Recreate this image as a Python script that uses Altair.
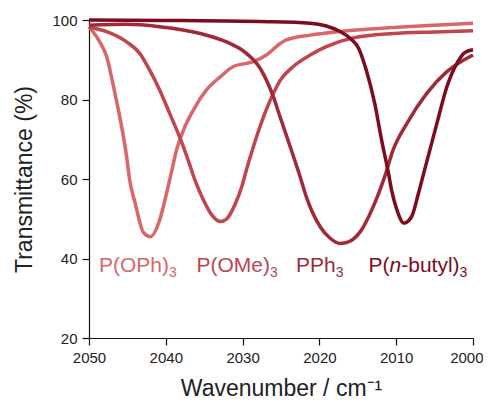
import altair as alt
import pandas as pd

# ---- data ----
oph_x = [2050, 2049.5, 2048.6, 2047.7, 2046.8, 2046.0, 2045.1, 2044.7, 2044.0, 2042.9, 2042.0,
         2040.8, 2039.9, 2039.2, 2038.6, 2037.7, 2036.4, 2034.7, 2032.9, 2031.2, 2028.6, 2026.9,
         2025.1, 2024.3, 2021.2, 2016.9, 2010.4, 2005, 2000]
oph_y = [98.3, 97.1, 94.5, 90.8, 83.2, 75.7, 65.6, 59.7, 54.0, 46.5, 45.5,
         49.7, 56.4, 62.3, 67.3, 72.3, 77.4, 82.4, 85.7, 88.3, 89.5, 91.2,
         94.1, 95.0, 96.2, 97.2, 98.1, 98.7, 99.2]

ome_x = [2050, 2047.7, 2045.1, 2043.4, 2042.1, 2040.8, 2039.5, 2038.2, 2037.1, 2036.2, 2035.1,
         2034.0, 2032.9, 2032.1, 2031.0, 2030.1, 2029.5, 2028.6, 2026.9, 2026.0, 2025.1, 2023.4,
         2021.2, 2019.1, 2015.6, 2010.4, 2005, 2000]
ome_y = [98.2, 97.1, 94.5, 91.6, 87.4, 82.4, 76.5, 70.6, 64.8, 59.7, 54.7,
         50.9, 49.3, 49.9, 53.5, 58.1, 62.3, 68.1, 77.5, 81.5, 84.8, 88.3,
         91.2, 93.3, 95.5, 96.6, 97.0, 97.3]

pph_x = [2050, 2045.1, 2040.8, 2035.5, 2032.1, 2029.5, 2027.7, 2026.0, 2025.1, 2023.8, 2022.5,
         2021.7, 2019.9, 2018.6, 2017.3, 2016.2, 2014.7, 2013.0, 2011.5, 2010.4, 2008.6, 2006.0,
         2003.4, 2000]
pph_y = [98.7, 98.9, 98.3, 96.6, 94.5, 91.6, 87.8, 80.7, 75.5, 68.1, 60.5,
         55.5, 48.0, 45.1, 43.8, 44.2, 46.7, 53.0, 60.6, 67.3, 74.0, 81.6,
         87.0, 91.2]

nbu_x = [2050, 2040, 2030, 2027.7, 2021.2, 2019.1, 2017.3, 2016.0, 2014.9, 2013.9, 2012.8,
         2011.9, 2011.0, 2010.6, 2009.9, 2009.0, 2008.0, 2007.1, 2006.3, 2004.7, 2003.4, 2002.1,
         2001.0, 2000]
nbu_y = [100.0, 99.9, 99.7, 99.6, 99.2, 98.5, 97.1, 95.4, 92.9, 87.4, 79.0,
         69.8, 61.4, 57.2, 52.2, 48.9, 50.5, 56.4, 62.3, 74.0, 83.2, 89.1,
         91.9, 92.5]

series_names = ["P(OPh)3", "P(OMe)3", "PPh3", "P(n-butyl)3"]
series_colors = ["#d9676a", "#c0454f", "#a02a37", "#7d0c1e"]

x_ticks = [2050, 2040, 2030, 2020, 2010, 2000]
y_ticks = [20, 40, 60, 80, 100]

# label segments: (text, style) ; style: n normal, i italic, s subscript
label_segments = [
    [("P(OPh)", "n"), ("3", "s")],
    [("P(OMe)", "n"), ("3", "s")],
    [("PPh", "n"), ("3", "s")],
    [("P(", "n"), ("n", "i"), ("-butyl)", "n"), ("3", "s")],
]
label_x = [2048.7, 2036.0, 2023.05, 2013.6]
label_y = 36.7

# ---- build table ----
rows = []
for name, xs, ys in zip(series_names, [oph_x, ome_x, pph_x, nbu_x], [oph_y, ome_y, pph_y, nbu_y]):
    for xv, yv in zip(xs, ys):
        rows.append({"series": name, "wn": xv, "T": yv})
df = pd.DataFrame(rows)

FONT = "Liberation Sans"
LABEL_SIZE = 21
SUB_SIZE = 14

x_scale = alt.Scale(domain=[2000, 2050], reverse=True, nice=False)
y_scale = alt.Scale(domain=[20, 100], nice=False)

lines = alt.Chart(df).mark_line(strokeWidth=3.5, strokeJoin="round", interpolate="monotone",
                                clip=False).encode(
    x=alt.X("wn:Q", scale=x_scale,
            axis=alt.Axis(values=x_ticks, title="Wavenumber / cm⁻¹", format="d",
                          titlePadding=12, labelPadding=5, labelFlush=False,
                          labelAlign={"expr": "datum.value == 2000 ? 'right' : 'center'"},
                          labelOffset={"expr": "datum.value == 2000 ? 10 : 0"})),
    y=alt.Y("T:Q", scale=y_scale,
            axis=alt.Axis(values=y_ticks, title="Transmittance (%)", titlePadding=15,
                          labelPadding=5, labelFlush=False)),
    color=alt.Color("series:N", scale=alt.Scale(domain=series_names, range=series_colors),
                    legend=None),
    detail="series:N",
    order="wn:Q",
)

# Arial / Liberation Sans advance widths (per 1000 em)
W = {"P": 667, "(": 333, ")": 333, "O": 778, "h": 556, "M": 833, "e": 556, "n": 556,
     "-": 333, "b": 556, "u": 556, "t": 278, "y": 500, "l": 222, "3": 556}

layers = [lines]
for segs, lx, col in zip(label_segments, label_x, series_colors):
    offset = 0.0
    for text, style in segs:
        size = SUB_SIZE if style == "s" else LABEL_SIZE
        t = alt.Chart(pd.DataFrame({"wn": [lx], "T": [label_y], "txt": [text]})).mark_text(
            align="left", baseline="alphabetic", font=FONT, fontSize=size,
            fontStyle="italic" if style == "i" else "normal",
            color=col, dx=offset, dy=5 if style == "s" else 0,
        ).encode(
            x=alt.X("wn:Q", scale=x_scale),
            y=alt.Y("T:Q", scale=y_scale),
            text="txt:N",
        )
        layers.append(t)
        offset += sum(W.get(c, 556) for c in text) / 1000 * size

chart = alt.layer(*layers).properties(
    width=384, height=318,
    autosize="none",
    padding={"left": 81, "top": 12, "right": 10, "bottom": 62},
).configure_view(strokeWidth=0).configure_axis(
    grid=False,
    labelFont=FONT, titleFont=FONT,
    labelFontSize=15, titleFontSize=23, titleFontWeight="normal",
    labelColor="#222222", titleColor="#222222",
    domainColor="#111111", tickColor="#111111",
    domainWidth=1.2, tickWidth=1.2, tickSize=7,
)

chart.save("out.html", embed_options={"renderer": "svg", "actions": False})
